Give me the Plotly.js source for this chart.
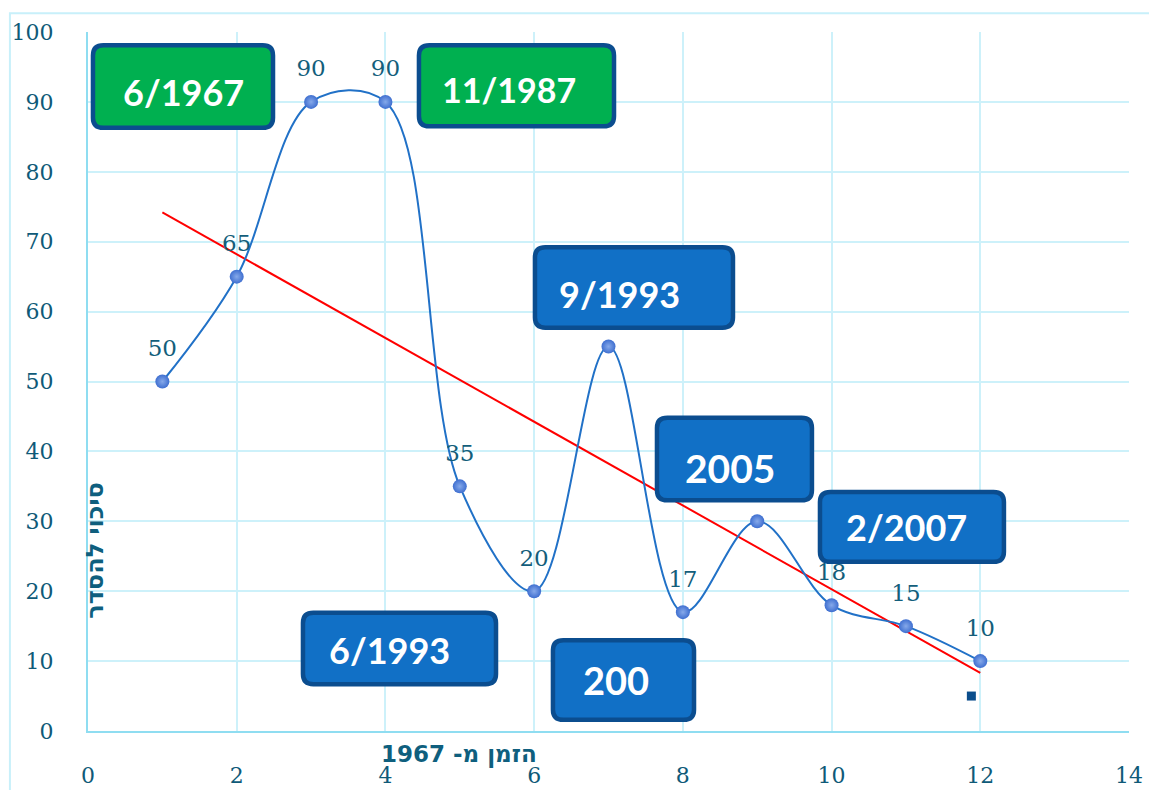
<!DOCTYPE html>
<html>
<head>
<meta charset="utf-8">
<script src="https://cdn.plot.ly/plotly-3.0.1.min.js"></script>
<style>body{margin:0;padding:0;background:#fff;}</style>
</head>
<body>
<div id="chart" style="width:1149px;height:790px;"></div>
<script>
// ---- data ----
var xValues = [1, 2, 3, 4, 5, 6, 7, 8, 9, 10, 11, 12];
var yValues = [50, 65, 90, 90, 35, 20, 55, 17, 30, 18, 15, 10];
var extraX = [11.88];
var extraY = [5];
var boxTexts = ['6/1967', '11/1987', '9/1993', '2005', '2/2007', '6/1993', '200'];
var boxFills = ['#00B050', '#00B050', '#1170C6', '#1170C6', '#1170C6', '#1170C6', '#1170C6'];
var yTitle = 'סיכוי להסדר';
var xTitle = 'הזמן מ- 1967';

// ---- linear trend (least squares) ----
var n = xValues.length, mx = 0, my = 0;
for (var i = 0; i < n; i++) { mx += xValues[i]; my += yValues[i]; }
mx /= n; my /= n;
var sxy = 0, sxx = 0;
for (var i = 0; i < n; i++) { sxy += (xValues[i]-mx)*(yValues[i]-my); sxx += (xValues[i]-mx)*(xValues[i]-mx); }
var slope = sxy/sxx, icpt = my - slope*mx;
var trendX = [xValues[0], xValues[n-1]];
var trendY = trendX.map(function(x){ return icpt + slope*x; });

// ---- annotation boxes (layout decoration, data-unit frames) ----
var boxFrames = [
  [0.067, 2.488, 86.3, 98.1],
  [4.451, 7.074, 86.5, 98.1],
  [6.011, 8.674, 57.7, 69.2],
  [7.652, 9.736, 33.0, 44.8],
  [9.844, 12.318, 24.2, 34.2],
  [2.891, 5.487, 6.7, 16.9],
  [6.253, 8.150, 1.6, 13.0]
];
var boxTextPos = [
  [1.278, 91.4], [5.662, 91.8], [7.154, 62.5], [8.634, 37.6],
  [11.014, 29.2], [4.048, 11.6], [7.101, 7.3]
];
var boxTextSize = [36, 34, 36, 39, 36, 36, 38];

function roundRect(x0, x1, y0, y1, rx, ry) {
  return 'M' + (x0+rx) + ',' + y1 +
    ' L' + (x1-rx) + ',' + y1 + ' Q' + x1 + ',' + y1 + ' ' + x1 + ',' + (y1-ry) +
    ' L' + x1 + ',' + (y0+ry) + ' Q' + x1 + ',' + y0 + ' ' + (x1-rx) + ',' + y0 +
    ' L' + (x0+rx) + ',' + y0 + ' Q' + x0 + ',' + y0 + ' ' + x0 + ',' + (y0+ry) +
    ' L' + x0 + ',' + (y1-ry) + ' Q' + x0 + ',' + y1 + ' ' + (x0+rx) + ',' + y1 + ' Z';
}

var shapes = [{
  type: 'rect', xref: 'paper', yref: 'paper',
  x0: -0.075, x1: 1.06, y0: -0.2, y1: 1.027,
  line: {color: '#C8F0FA', width: 2}, fillcolor: 'rgba(0,0,0,0)', layer: 'below'
}];
var annotations = [];
for (var b = 0; b < boxFrames.length; b++) {
  var f = boxFrames[b];
  shapes.push({
    type: 'path', xref: 'x', yref: 'y', layer: 'above',
    path: roundRect(f[0], f[1], f[2], f[3], 0.14, 1.45),
    fillcolor: boxFills[b], line: {color: '#0B4D8F', width: 4.5}
  });
  annotations.push({
    x: boxTextPos[b][0], y: boxTextPos[b][1], xref: 'x', yref: 'y',
    text: '<b>' + boxTexts[b] + '</b>', showarrow: false,
    font: {family: 'Lato, "Open Sans", sans-serif', size: boxTextSize[b], color: '#FFFFFF'}
  });
}
annotations.push({
  x: 0.0065, y: 0.259, xref: 'paper', yref: 'paper', textangle: -90,
  xanchor: 'center', yanchor: 'middle',
  text: '<b>' + yTitle + '</b>', showarrow: false,
  font: {family: '"DejaVu Sans", sans-serif', size: 24, color: '#0F5F7E'}
});
annotations.push({
  x: 0.356, y: -0.034, xref: 'paper', yref: 'paper',
  xanchor: 'center', yanchor: 'middle',
  text: '<b>' + xTitle + '</b>', showarrow: false,
  font: {family: '"DejaVu Sans", sans-serif', size: 23, color: '#0F5F7E'}
});

var tickFont = {family: '"DejaVu Serif", serif', size: 22, color: '#0F5A78'};

var traces = [
  {
    x: trendX, y: trendY, mode: 'lines', type: 'scatter',
    line: {color: '#FF0000', width: 2}, hoverinfo: 'skip', showlegend: false
  },
  {
    x: xValues, y: yValues, mode: 'lines+markers', type: 'scatter',
    line: {color: '#2171C7', width: 2, shape: 'spline', smoothing: 1},
    marker: {size: 14, color: '#3F6FD0', gradient: {type: 'radial', color: '#86A9EA'}},
    showlegend: false
  },
  {
    x: xValues, y: yValues, mode: 'markers+text', type: 'scatter',
    text: yValues.map(String), textposition: 'top center',
    textfont: {family: '"DejaVu Serif", serif', size: 23, color: '#135E7B'},
    marker: {size: 30, opacity: 0}, hoverinfo: 'skip', showlegend: false
  },
  {
    x: extraX, y: extraY, mode: 'markers', type: 'scatter',
    marker: {size: 9, symbol: 'square', color: '#0B4E8C'}, showlegend: false
  }
];

var layout = {
  width: 1149, height: 790,
  margin: {l: 88, r: 20, t: 32, b: 59},
  paper_bgcolor: '#FFFFFF', plot_bgcolor: '#FFFFFF',
  showlegend: false,
  xaxis: {
    range: [0, 14], dtick: 2, tick0: 0, zeroline: false,
    showgrid: true, gridcolor: '#CDF1FA', gridwidth: 2,
    showline: true, linecolor: '#8FDDF1', linewidth: 2,
    ticks: 'outside', ticklen: 24, tickcolor: 'rgba(0,0,0,0)',
    tickfont: tickFont
  },
  yaxis: {
    range: [0, 100], dtick: 10, tick0: 0, zeroline: false,
    showgrid: true, gridcolor: '#CDF1FA', gridwidth: 2,
    showline: true, linecolor: '#8FDDF1', linewidth: 2,
    ticks: 'outside', ticklen: 28, tickcolor: 'rgba(0,0,0,0)',
    tickfont: tickFont
  },
  shapes: shapes,
  annotations: annotations
};

Plotly.newPlot('chart', traces, layout, {displayModeBar: false, staticPlot: true});
</script>
</body>
</html>
